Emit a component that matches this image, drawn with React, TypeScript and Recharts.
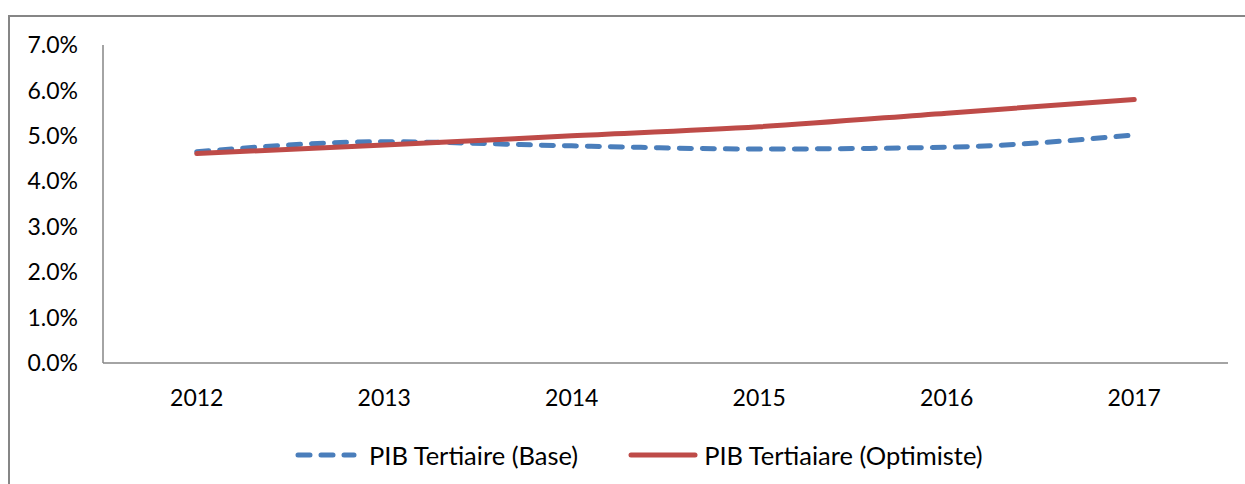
import React from 'react';
import { LineChart, Line, XAxis, YAxis, Legend } from 'recharts';

// Growth of the tertiary sector GDP, two scenarios
const years = ['2012', '2013', '2014', '2015', '2016', '2017'];
const baseGrowth = [0.0465, 0.0487, 0.0478, 0.0471, 0.0475, 0.0502];
const optimisticGrowth = [0.0461, 0.048, 0.05, 0.052, 0.055, 0.058];
const yTicks = [0, 0.01, 0.02, 0.03, 0.04, 0.05, 0.06, 0.07];

const BASE_NAME = 'PIB Tertiaire (Base)';
const OPT_NAME = 'PIB Tertiaiare (Optimiste)';

const BLUE = '#4a7ebb';
const RED = '#be4b48';
const AXIS = '#868686';
const FONT = 'Lato, "Liberation Sans", sans-serif';

const data = years.map((year, i) => ({
  year,
  base: baseGrowth[i],
  optimiste: optimisticGrowth[i],
}));

const pct = (v: number) => `${(v * 100).toFixed(1)}%`;

const LegendRow = () => (
  <div
    style={{
      height: 30,
      display: 'flex',
      alignItems: 'center',
      paddingLeft: 285,
      fontFamily: FONT,
      fontSize: 25.5,
      color: '#000',
    }}
  >
    <svg width={62} height={12} style={{ marginRight: 12 }}>
      <line
        x1={3}
        y1={6}
        x2={59}
        y2={6}
        stroke={BLUE}
        strokeWidth={5}
        strokeDasharray="12 11"
        strokeLinecap="round"
      />
    </svg>
    <span>{BASE_NAME}</span>
    <svg width={70} height={12} style={{ marginLeft: 50, marginRight: 6 }}>
      <line x1={3} y1={6} x2={67} y2={6} stroke={RED} strokeWidth={5} strokeLinecap="round" />
    </svg>
    <span>{OPT_NAME}</span>
  </div>
);

export default function App() {
  return (
    <div
      style={{
        position: 'absolute',
        left: 8,
        top: 15,
        width: 1260,
        height: 490,
        border: `2px solid ${AXIS}`,
        background: '#fff',
      }}
    >
      <LineChart
        width={1240}
        height={453}
        data={data}
        margin={{ top: 28, right: 22, left: 0, bottom: 0 }}
      >
        <XAxis
          dataKey="year"
          axisLine={{ stroke: AXIS, strokeWidth: 1.5 }}
          tickLine={false}
          tickSize={0}
          tickMargin={27}
          height={77}
          padding={{ left: 93.75, right: 93.75 }}
          tick={{ fill: '#000', fontSize: 23, fontFamily: FONT }}
        />
        <YAxis
          domain={[0, 0.07]}
          ticks={yTicks}
          tickFormatter={pct}
          width={93}
          axisLine={{ stroke: AXIS, strokeWidth: 1.5 }}
          tickLine={false}
          tickSize={0}
          tickMargin={25}
          tick={{ fill: '#000', fontSize: 23, fontFamily: FONT }}
        />
        <Legend verticalAlign="bottom" content={() => <LegendRow />} />
        <Line
          type="monotone"
          dataKey="base"
          name={BASE_NAME}
          stroke={BLUE}
          strokeWidth={5}
          strokeDasharray="12 11"
          strokeLinecap="round"
          dot={false}
          isAnimationActive={false}
        />
        <Line
          type="monotone"
          dataKey="optimiste"
          name={OPT_NAME}
          stroke={RED}
          strokeWidth={5}
          strokeLinecap="round"
          dot={false}
          isAnimationActive={false}
        />
      </LineChart>
    </div>
  );
}
